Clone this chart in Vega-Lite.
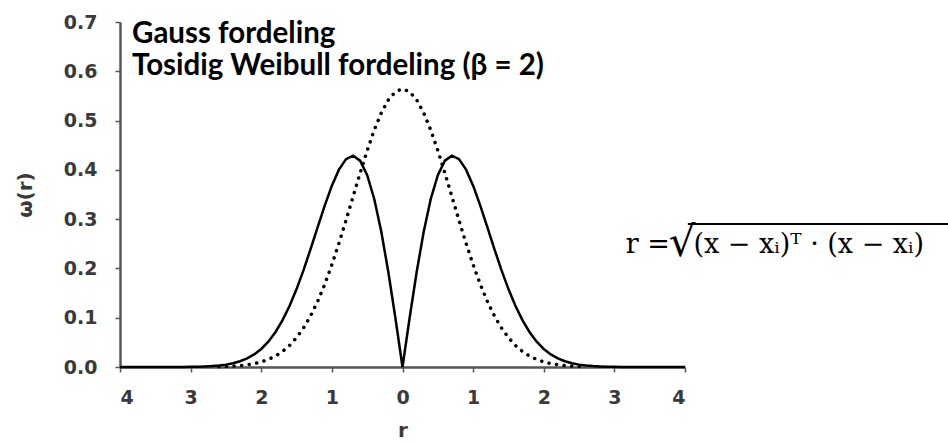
{
  "$schema": "https://vega.github.io/schema/vega-lite/v6.json",
  "width": 565,
  "height": 345,
  "autosize": {"type": "none"},
  "padding": {"left": 120, "top": 22, "right": 263, "bottom": 77},
  "background": "white",
  "config": {
    "view": {"stroke": null}
  },
  "datasets": {
    "curves": [
      {"r": -4.0, "gauss": null, "weibull": 0},
      {"r": -3.5, "gauss": null, "weibull": 0},
      {"r": -3.3, "gauss": null, "weibull": 0},
      {"r": -3.2, "gauss": null, "weibull": 0.0001},
      {"r": -3.1, "gauss": null, "weibull": 0.0002},
      {"r": -3.0, "gauss": null, "weibull": 0.0004},
      {"r": -2.9, "gauss": null, "weibull": 0.0006},
      {"r": -2.8, "gauss": null, "weibull": 0.0011},
      {"r": -2.7, "gauss": null, "weibull": 0.0018},
      {"r": -2.6, "gauss": 0.0007, "weibull": 0.0030},
      {"r": -2.5, "gauss": 0.0011, "weibull": 0.0048},
      {"r": -2.4, "gauss": 0.0018, "weibull": 0.0076},
      {"r": -2.3, "gauss": 0.0028, "weibull": 0.0116},
      {"r": -2.2, "gauss": 0.0045, "weibull": 0.0174},
      {"r": -2.1, "gauss": 0.0069, "weibull": 0.0255},
      {"r": -2.0, "gauss": 0.0103, "weibull": 0.0366},
      {"r": -1.9, "gauss": 0.0153, "weibull": 0.0514},
      {"r": -1.8, "gauss": 0.0221, "weibull": 0.0705},
      {"r": -1.7, "gauss": 0.0314, "weibull": 0.0945},
      {"r": -1.6, "gauss": 0.0436, "weibull": 0.1237},
      {"r": -1.5, "gauss": 0.0595, "weibull": 0.1581},
      {"r": -1.4, "gauss": 0.0795, "weibull": 0.1972},
      {"r": -1.3, "gauss": 0.1041, "weibull": 0.2399},
      {"r": -1.2, "gauss": 0.1337, "weibull": 0.2843},
      {"r": -1.1, "gauss": 0.1682, "weibull": 0.3280},
      {"r": -1.0, "gauss": 0.2076, "weibull": 0.3679},
      {"r": -0.9, "gauss": 0.2510, "weibull": 0.4004},
      {"r": -0.8, "gauss": 0.2975, "weibull": 0.4218},
      {"r": -0.7, "gauss": 0.3456, "weibull": 0.4288},
      {"r": -0.6, "gauss": 0.3936, "weibull": 0.4186},
      {"r": -0.5, "gauss": 0.4394, "weibull": 0.3894},
      {"r": -0.4, "gauss": 0.4808, "weibull": 0.3409},
      {"r": -0.3, "gauss": 0.5156, "weibull": 0.2742},
      {"r": -0.2, "gauss": 0.5421, "weibull": 0.1922},
      {"r": -0.1, "gauss": 0.5586, "weibull": 0.0990},
      {"r": 0.0, "gauss": 0.5642, "weibull": 0},
      {"r": 0.1, "gauss": 0.5586, "weibull": 0.0990},
      {"r": 0.2, "gauss": 0.5421, "weibull": 0.1922},
      {"r": 0.3, "gauss": 0.5156, "weibull": 0.2742},
      {"r": 0.4, "gauss": 0.4808, "weibull": 0.3409},
      {"r": 0.5, "gauss": 0.4394, "weibull": 0.3894},
      {"r": 0.6, "gauss": 0.3936, "weibull": 0.4186},
      {"r": 0.7, "gauss": 0.3456, "weibull": 0.4288},
      {"r": 0.8, "gauss": 0.2975, "weibull": 0.4218},
      {"r": 0.9, "gauss": 0.2510, "weibull": 0.4004},
      {"r": 1.0, "gauss": 0.2076, "weibull": 0.3679},
      {"r": 1.1, "gauss": 0.1682, "weibull": 0.3280},
      {"r": 1.2, "gauss": 0.1337, "weibull": 0.2843},
      {"r": 1.3, "gauss": 0.1041, "weibull": 0.2399},
      {"r": 1.4, "gauss": 0.0795, "weibull": 0.1972},
      {"r": 1.5, "gauss": 0.0595, "weibull": 0.1581},
      {"r": 1.6, "gauss": 0.0436, "weibull": 0.1237},
      {"r": 1.7, "gauss": 0.0314, "weibull": 0.0945},
      {"r": 1.8, "gauss": 0.0221, "weibull": 0.0705},
      {"r": 1.9, "gauss": 0.0153, "weibull": 0.0514},
      {"r": 2.0, "gauss": 0.0103, "weibull": 0.0366},
      {"r": 2.1, "gauss": 0.0069, "weibull": 0.0255},
      {"r": 2.2, "gauss": 0.0045, "weibull": 0.0174},
      {"r": 2.3, "gauss": 0.0028, "weibull": 0.0116},
      {"r": 2.4, "gauss": 0.0018, "weibull": 0.0076},
      {"r": 2.5, "gauss": 0.0011, "weibull": 0.0048},
      {"r": 2.6, "gauss": 0.0007, "weibull": 0.0030},
      {"r": 2.7, "gauss": null, "weibull": 0.0018},
      {"r": 2.8, "gauss": null, "weibull": 0.0011},
      {"r": 2.9, "gauss": null, "weibull": 0.0006},
      {"r": 3.0, "gauss": null, "weibull": 0.0004},
      {"r": 3.1, "gauss": null, "weibull": 0.0002},
      {"r": 3.2, "gauss": null, "weibull": 0.0001},
      {"r": 3.3, "gauss": null, "weibull": 0},
      {"r": 3.5, "gauss": null, "weibull": 0},
      {"r": 4.0, "gauss": null, "weibull": 0}
    ],
    "legendText": [
      {"r": -3.83, "w": 0.657, "label": "Gauss fordeling"},
      {"r": -3.83, "w": 0.592, "label": "Tosidig Weibull fordeling (β = 2)"}
    ],
    "formulaText": [
      {"r": 3.16, "w": 0.231, "label": "r ="},
      {"r": 4.12, "w": 0.231, "label": "(x − xᵢ)ᵀ · (x − xᵢ)"}
    ],
    "radicalSign": [
      {"r": 3.77, "w": 0.225, "label": "√"}
    ],
    "radicalBar": [
      {"r": 4.04, "r2": 7.75, "w": 0.29}
    ]
  },
  "layer": [
    {
      "data": {"name": "curves"},
      "mark": {"type": "line", "color": "black", "strokeWidth": 3.5, "strokeDash": [0.1, 7.5], "strokeCap": "round", "clip": false},
      "encoding": {
        "x": {
          "field": "r", "type": "quantitative",
          "scale": {"domain": [-4, 4], "nice": false, "zero": false},
          "axis": {
            "title": "r",
            "grid": false,
            "values": [-4, -3, -2, -1, 0, 1, 2, 3, 4],
            "labelExpr": "format(abs(datum.value), 'd')",
            "domainColor": "#555555",
            "domainWidth": 2.5,
            "tickColor": "#555555",
            "tickWidth": 1.5,
            "tickSize": 5,
            "labelFont": "DejaVu Sans",
            "labelFontSize": 19,
            "labelFontWeight": "bold",
            "labelColor": "#3a3a3a",
            "labelPadding": 16,
            "titleFont": "DejaVu Sans",
            "titleFontSize": 20,
            "titleFontWeight": "bold",
            "titleColor": "#3a3a3a",
            "titlePadding": 13
          }
        },
        "y": {
          "field": "gauss", "type": "quantitative",
          "scale": {"domain": [0, 0.7], "nice": false},
          "axis": {
            "title": "ω(r)",
            "grid": false,
            "values": [0, 0.1, 0.2, 0.3, 0.4, 0.5, 0.6, 0.7],
            "format": ".1f",
            "domainColor": "#555555",
            "domainWidth": 2.5,
            "tickColor": "#555555",
            "tickWidth": 1.5,
            "tickSize": 5,
            "labelFont": "DejaVu Sans",
            "labelFontSize": 19,
            "labelFontWeight": "bold",
            "labelColor": "#3a3a3a",
            "labelPadding": 18,
            "titleFont": "DejaVu Sans",
            "titleFontSize": 20,
            "titleFontWeight": "bold",
            "titleColor": "#3a3a3a",
            "titlePadding": 28
          }
        }
      }
    },
    {
      "data": {"name": "curves"},
      "mark": {"type": "line", "color": "black", "strokeWidth": 2.5, "clip": false},
      "encoding": {
        "x": {"field": "r", "type": "quantitative"},
        "y": {"field": "weibull", "type": "quantitative"}
      }
    },
    {
      "data": {"name": "legendText"},
      "mark": {"type": "text", "align": "left", "baseline": "alphabetic", "font": "Lato", "fontSize": 29.5, "fontWeight": "bold", "color": "black"},
      "encoding": {
        "x": {"field": "r", "type": "quantitative"},
        "y": {"field": "w", "type": "quantitative"},
        "text": {"field": "label"}
      }
    },
    {
      "data": {"name": "formulaText"},
      "mark": {"type": "text", "align": "left", "baseline": "alphabetic", "font": "DejaVu Serif", "fontSize": 27, "color": "black"},
      "encoding": {
        "x": {"field": "r", "type": "quantitative"},
        "y": {"field": "w", "type": "quantitative"},
        "text": {"field": "label"}
      }
    },
    {
      "data": {"name": "radicalSign"},
      "mark": {"type": "text", "align": "left", "baseline": "alphabetic", "font": "DejaVu Serif", "fontSize": 42, "color": "black"},
      "encoding": {
        "x": {"field": "r", "type": "quantitative"},
        "y": {"field": "w", "type": "quantitative"},
        "text": {"field": "label"}
      }
    },
    {
      "data": {"name": "radicalBar"},
      "mark": {"type": "rule", "color": "black", "strokeWidth": 2},
      "encoding": {
        "x": {"field": "r", "type": "quantitative"},
        "x2": {"field": "r2"},
        "y": {"field": "w", "type": "quantitative"}
      }
    }
  ]
}
